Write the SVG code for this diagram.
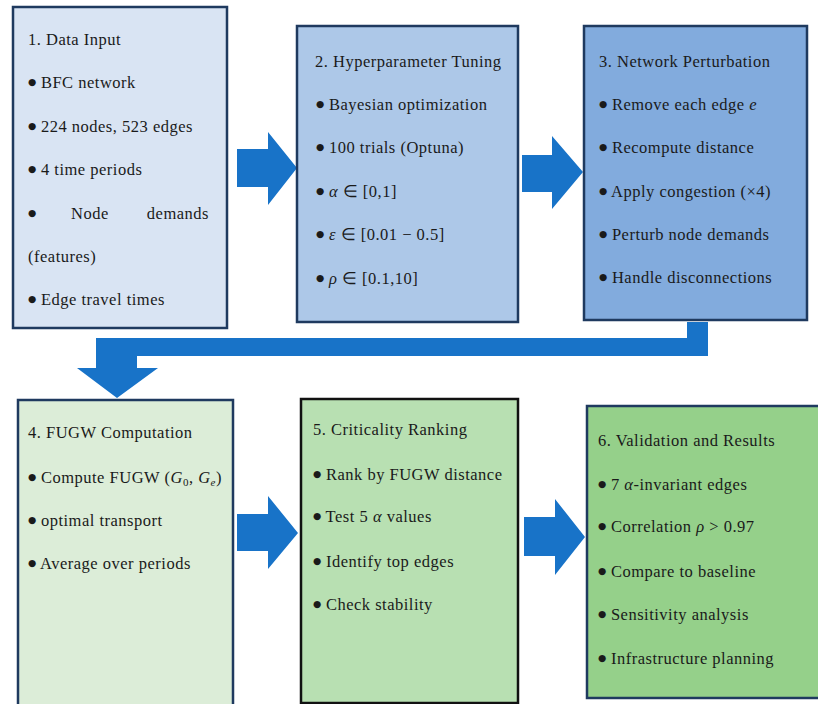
<svg xmlns="http://www.w3.org/2000/svg" width="818" height="704" viewBox="0 0 818 704">
<style>
text{font-family:"Liberation Serif","Times New Roman",serif;font-size:16.5px;letter-spacing:0.5px;fill:#1a1a1a}
.m{font-style:italic}
.sub{font-size:11px}
.b{font-family:"DejaVu Sans",sans-serif;font-size:9.5px;letter-spacing:0;baseline-shift:3px}
.box{stroke:#1f3a5f;stroke-width:2.5}
.arrow{fill:#1873c8}
</style>
<rect width="818" height="704" fill="#ffffff"/>
<g id="connectors">
<polygon class="arrow" points="237,149 268,149 268,132 297,168 268,205 268,187 237,187"/>
<polygon class="arrow" points="522,155 552,155 552,136 583,172 552,209 552,192 522,192"/>
<polygon class="arrow" points="687,322 708,322 708,356 137,356 137,368 158,368 117,398 77,368 96,368 96,338 687,338"/>
<polygon class="arrow" points="237,514 268,514 268,496 298,533 268,569 268,551 237,551"/>
<polygon class="arrow" points="524,517 555,517 555,499 585,537 555,575 555,556 524,556"/>
</g>
<g id="node1">
<rect class="box" x="13" y="7" width="214" height="321" fill="#d9e4f3"/>
<text x="28" y="45">1. Data Input</text>
<text x="28" y="88"><tspan class="b">●</tspan> BFC network</text>
<text x="28" y="132"><tspan class="b">●</tspan> 224 nodes, 523 edges</text>
<text x="28" y="175"><tspan class="b">●</tspan> 4 time periods</text>
<text x="28" y="219"><tspan class="b">●</tspan></text><text x="71" y="219">Node</text><text x="209" y="219" text-anchor="end">demands</text>
<text x="28" y="262">(features)</text>
<text x="28" y="305"><tspan class="b">●</tspan> Edge travel times</text>
</g>
<g id="node2">
<rect class="box" x="297" y="26" width="221" height="296" fill="#adc8e8"/>
<text x="315" y="67">2. Hyperparameter Tuning</text>
<text x="316" y="110"><tspan class="b">●</tspan> Bayesian optimization</text>
<text x="316" y="153"><tspan class="b">●</tspan> 100 trials (Optuna)</text>
<text x="316" y="197"><tspan class="b">●</tspan> <tspan class="m">α</tspan> ∈ [0,1]</text>
<text x="316" y="240"><tspan class="b">●</tspan> <tspan class="m">ε</tspan> ∈ [0.01 − 0.5]</text>
<text x="316" y="284"><tspan class="b">●</tspan> <tspan class="m">ρ</tspan> ∈ [0.1,10]</text>
</g>
<g id="node3">
<rect class="box" x="584" y="26" width="223" height="294" fill="#82abdd"/>
<text x="599" y="67">3. Network Perturbation</text>
<text x="599" y="110"><tspan class="b">●</tspan> Remove each edge <tspan class="m">e</tspan></text>
<text x="599" y="153"><tspan class="b">●</tspan> Recompute distance</text>
<text x="599" y="197"><tspan class="b">●</tspan> Apply congestion (×4)</text>
<text x="599" y="240"><tspan class="b">●</tspan> Perturb node demands</text>
<text x="599" y="283"><tspan class="b">●</tspan> Handle disconnections</text>
</g>
<g id="node4">
<rect class="box" x="18" y="400" width="215" height="308" fill="#dcedd8"/>
<text x="28" y="438">4. FUGW Computation</text>
<text x="28" y="483"><tspan class="b">●</tspan> Compute FUGW (<tspan class="m">G</tspan><tspan class="sub" dy="3">0</tspan><tspan dy="-3">, </tspan><tspan class="m">G</tspan><tspan class="sub m" dy="3">e</tspan><tspan dy="-3">)</tspan></text>
<text x="28" y="526"><tspan class="b">●</tspan> optimal transport</text>
<text x="28" y="569"><tspan class="b">●</tspan> Average over periods</text>
</g>
<g id="node5">
<rect x="301" y="399" width="217" height="304" fill="#b8e0b2" stroke="#111111" stroke-width="2.5"/>
<text x="313" y="435">5. Criticality Ranking</text>
<text x="313" y="480"><tspan class="b">●</tspan> Rank by FUGW distance</text>
<text x="313" y="522"><tspan class="b">●</tspan> Test 5 <tspan class="m">α</tspan> values</text>
<text x="313" y="567"><tspan class="b">●</tspan> Identify top edges</text>
<text x="313" y="610"><tspan class="b">●</tspan> Check stability</text>
</g>
<g id="node6">
<rect class="box" x="587" y="406" width="240" height="292" fill="#95d08a"/>
<text x="598" y="446">6. Validation and Results</text>
<text x="598" y="490"><tspan class="b">●</tspan> 7 <tspan class="m">α</tspan>-invariant edges</text>
<text x="598" y="532"><tspan class="b">●</tspan> Correlation <tspan class="m">ρ</tspan> &gt;  0.97</text>
<text x="598" y="577"><tspan class="b">●</tspan> Compare to baseline</text>
<text x="598" y="620"><tspan class="b">●</tspan> Sensitivity analysis</text>
<text x="598" y="664"><tspan class="b">●</tspan> Infrastructure planning</text>
</g>
</svg>
